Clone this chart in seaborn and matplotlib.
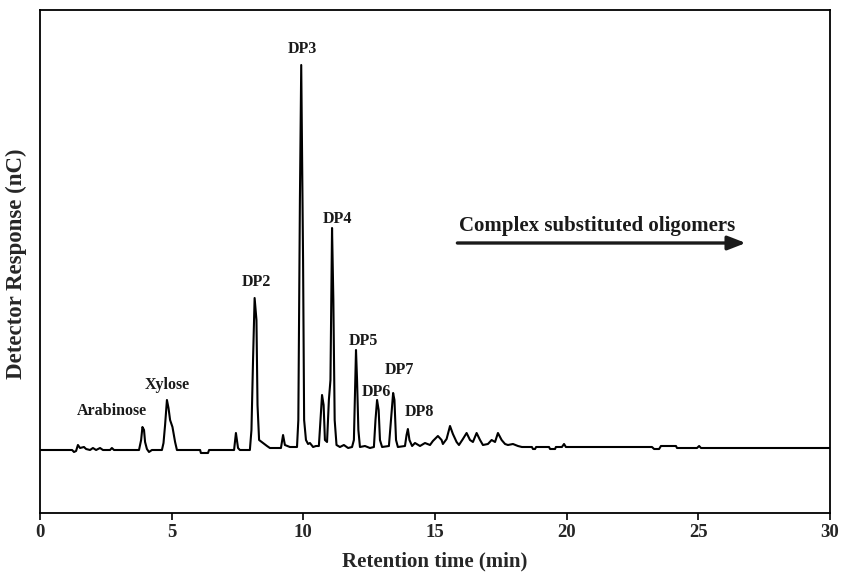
import matplotlib
matplotlib.use("Agg")
import matplotlib.pyplot as plt
import seaborn as sns
import pandas as pd

# Retention time (min) and detector response (arbitrary nC units)
time_min = [0.00, 1.22, 1.29, 1.37, 1.44, 1.52, 1.67, 1.75, 1.90, 2.01, 2.13, 2.28, 2.39, 2.66, 2.73,
            2.81, 3.76, 3.84, 3.89, 3.95, 3.99, 4.06, 4.14, 4.25, 4.63, 4.69, 4.75, 4.82, 4.88, 4.94,
            5.03, 5.13, 5.20, 6.08, 6.11, 6.38, 6.42, 7.37, 7.44, 7.52, 7.59, 7.97, 8.03, 8.09, 8.15,
            8.22, 8.26, 8.32, 8.47, 8.62, 8.73, 9.15, 9.23, 9.30, 9.49, 9.76, 9.81, 9.87, 9.92, 9.96,
            9.99, 10.03, 10.10, 10.18, 10.25, 10.37, 10.48, 10.59, 10.65, 10.71, 10.77, 10.82, 10.90,
            10.97, 11.03, 11.09, 11.14, 11.19, 11.26, 11.39, 11.54, 11.70, 11.85, 11.92, 12.00, 12.04,
            12.09, 12.15, 12.34, 12.53, 12.68, 12.74, 12.80, 12.86, 12.91, 12.99, 13.25, 13.33, 13.41,
            13.46, 13.52, 13.59, 13.86, 13.92, 13.97, 14.03, 14.13, 14.24, 14.43, 14.62, 14.81, 14.92,
            15.11, 15.25, 15.30, 15.44, 15.57, 15.68, 15.82, 15.91, 16.06, 16.20, 16.33, 16.44, 16.58,
            16.71, 16.82, 17.01, 17.15, 17.28, 17.39, 17.53, 17.66, 17.77, 17.96, 18.15, 18.30, 18.68,
            18.72, 18.80, 18.84, 19.33, 19.37, 19.56, 19.59, 19.82, 19.90, 19.97, 23.24, 23.32, 23.51,
            23.58, 24.15, 24.19, 24.95, 25.03, 25.10, 25.56, 30.00]
response = [0, 0, -2, -1, 5, 2, 3, 1, 0, 2, 0, 2, 0, 0, 2,
            0, 0, 10, 23, 20, 8, 1, -2, 0, 0, 7, 25, 50, 42, 30,
            23, 8, 0, 0, -3, -3, 0, 0, 17, 2, 0, 0, 20, 90, 152,
            130, 45, 10, 7, 4, 2, 2, 15, 5, 3, 3, 30, 250, 385, 275,
            190, 30, 10, 6, 7, 3, 4, 4, 30, 55, 45, 10, 8,
            50, 70, 222, 150, 30, 5, 3, 5, 2, 3, 10, 100, 70,
            20, 3, 4, 2, 3, 30, 50, 40, 10, 3, 4, 30, 57,
            50, 10, 3, 4, 15, 21, 10, 4, 7, 4, 7, 5, 9,
            14, 10, 6, 11, 24, 16, 8, 5, 11, 17, 10, 8, 17,
            10, 5, 6, 10, 8, 17, 10, 6, 5, 6, 4, 3, 3,
            1, 1, 3, 3, 1, 1, 3, 3, 6, 3, 3, 1, 1,
            4, 4, 2, 2, 4, 2, 2, 2]

peak_labels = ["Arabinose", "Xylose", "DP2", "DP3", "DP4", "DP5", "DP6", "DP7", "DP8"]
label_time = [2.73, 4.82, 8.20, 9.95, 11.28, 12.27, 12.76, 13.63, 14.39]
label_resp = [39, 65, 168, 401, 231, 109, 58, 80, 38]

region_text = "Complex substituted oligomers"
x_ticks = [0, 5, 10, 15, 20, 25, 30]

sns.set_theme(style="white")
plt.rcParams["font.family"] = ["Liberation Serif", "DejaVu Serif"]
plt.rcParams["font.weight"] = "bold"

df = pd.DataFrame({"time": time_min, "resp": response})

fig = plt.figure(figsize=(8.44, 5.73), dpi=100)
ax = fig.add_axes([40 / 844, 60 / 573, 790 / 844, 503 / 573])

sns.lineplot(data=df, x="time", y="resp", ax=ax, color="black", linewidth=1.5,
             estimator=None, sort=False)

ax.set_xlim(0, 30)
ax.set_ylim(-63, 440)
ax.set_xticks(x_ticks)
ax.set_xticklabels([str(t) for t in x_ticks], fontsize=13.5, fontweight="bold")
ax.set_yticks([])
ax.tick_params(axis="x", direction="out", length=5, width=1.2, color="black", pad=3,
               bottom=True)
for s in ax.spines.values():
    s.set_color("black")
    s.set_linewidth(1.3)
    s.set_visible(True)

ax.set_xlabel("Retention time (min)", fontsize=15, fontweight="bold")
ax.set_ylabel("Detector Response (nC)", fontsize=16.5, fontweight="bold")
ax.xaxis.set_label_coords(0.5, -0.077)
ax.yaxis.set_label_coords(-0.016, 0.495)

for lab, tx, ty in zip(peak_labels, label_time, label_resp):
    ax.text(tx, ty, lab, ha="center", va="center", fontsize=11.5, fontweight="bold",
            color="#1a1a1a")

ax.text(21.15, 224, region_text, ha="center", va="center", fontsize=15, fontweight="bold",
        color="#1a1a1a")
ax.annotate("", xy=(26.8, 207), xytext=(15.85, 207),
            arrowprops=dict(arrowstyle="-|>,head_length=0.9,head_width=0.35",
                            color="#1a1a1a", lw=2.4, shrinkA=0, shrinkB=0))

fig.savefig("out.png", dpi=100)
